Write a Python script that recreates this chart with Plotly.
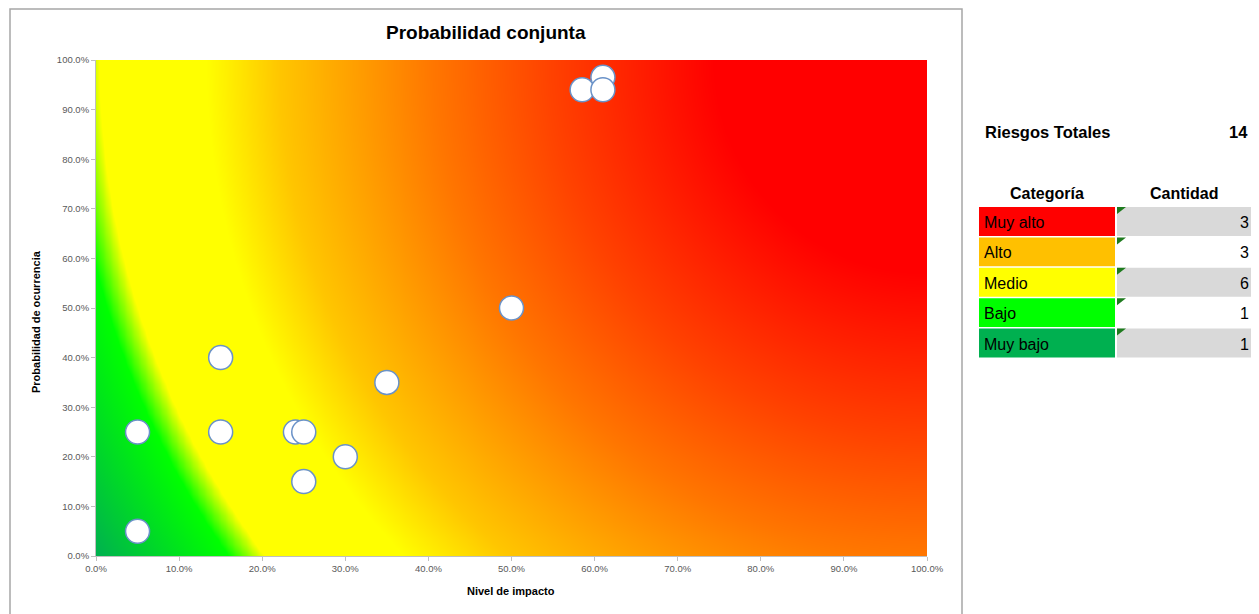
import numpy as np
import plotly.graph_objects as go

# ---------------- data ----------------
impact = [0.05, 0.05, 0.15, 0.15, 0.24, 0.25, 0.25, 0.30, 0.35, 0.50, 0.61, 0.585, 0.61]
probability = [0.05, 0.25, 0.40, 0.25, 0.25, 0.25, 0.15, 0.20, 0.35, 0.50, 0.965, 0.94, 0.94]

categories = ["Muy alto", "Alto", "Medio", "Bajo", "Muy bajo"]
counts = [3, 3, 6, 1, 1]
cat_colors = ["#FF0000", "#FFC000", "#FFFF00", "#00FF00", "#00B050"]
total_label = "Riesgos Totales"
total_value = sum(counts)

tick_vals = [i / 10 for i in range(11)]
tick_text = [f"{v*100:.1f}%" for v in tick_vals]

# ---------------- layout geometry ----------------
# page body has an 8px default margin; figure is sized/offset to compensate
OFF = 8
FIG_W, FIG_H = 1259 - OFF, 614 - OFF
L, R, T, B = 96, 927, 60, 556
PW, PH = R - L, B - T


def px(x):
    return (x - L) / PW


def py(y):
    return (B - y) / PH


# ---------------- background gradient (radial from top-right corner) ----------------
gx = np.linspace(0, 1, 240)
gy = np.linspace(0, 1, 160)
X, Y = np.meshgrid(gx, gy)
D = np.sqrt(((1 - X) * PW) ** 2 + ((1 - Y) * PH) ** 2)
Z = D / np.sqrt(PW ** 2 + PH ** 2)

colorscale = [
    [0.00, "#FF0000"],
    [0.22, "#FF0000"],
    [0.39, "#FF4200"],
    [0.51, "#FF7600"],
    [0.59, "#FF9E00"],
    [0.67, "#FFC600"],
    [0.745, "#FFFF00"],
    [0.855, "#FFFF00"],
    [0.885, "#00FF00"],
    [1.00, "#00B050"],
]

fig = go.Figure()
fig.add_trace(go.Heatmap(
    x=gx, y=gy, z=Z, colorscale=colorscale, zmin=0, zmax=1,
    zsmooth="best", showscale=False, hoverinfo="skip",
))
fig.add_trace(go.Scatter(
    x=impact, y=probability, mode="markers",
    marker=dict(size=24, color="white", line=dict(color="#6A92C8", width=1.5)),
    hovertemplate="Impacto %{x:.1%}<br>Probabilidad %{y:.1%}<extra></extra>",
))

axis_common = dict(
    range=[0, 1], tickvals=tick_vals, ticktext=tick_text,
    showgrid=False, zeroline=False, showline=True, linecolor="#BFBFBF", linewidth=1,
    ticks="outside", ticklen=4, tickcolor="#BFBFBF",
    tickfont=dict(family="Liberation Sans", size=9.5, color="#595959"),
)
fig.update_xaxes(**axis_common)
fig.update_yaxes(**axis_common)

shapes = []
annotations = []

# chart frame
shapes.append(dict(type="rect", xref="paper", yref="paper",
                   x0=px(10), x1=px(962), y0=py(630), y1=py(9),
                   line=dict(color="#A6A6A6", width=1.5), layer="below"))

# title and axis titles
annotations.append(dict(text="<b>Probabilidad conjunta</b>", xref="paper", yref="paper",
                        x=px(486), y=py(32), showarrow=False, xanchor="center", yanchor="middle",
                        font=dict(family="Liberation Sans", size=19, color="#000000")))
annotations.append(dict(text="<b>Nivel de impacto</b>", xref="paper", yref="paper",
                        x=px(511), y=py(591), showarrow=False, xanchor="center", yanchor="middle",
                        font=dict(family="Liberation Sans", size=11, color="#000000")))
annotations.append(dict(text="<b>Probabilidad de ocurrencia</b>", xref="paper", yref="paper",
                        x=px(36), y=py(322), showarrow=False, textangle=-90,
                        xanchor="center", yanchor="middle",
                        font=dict(family="Liberation Sans", size=11, color="#000000")))

# side table
tfont = "Liberation Sans"
annotations.append(dict(text=f"<b>{total_label}</b>", xref="paper", yref="paper",
                        x=px(983), y=py(132), showarrow=False, xanchor="left", yanchor="middle",
                        font=dict(family=tfont, size=16.5, color="#000000")))
annotations.append(dict(text=f"<b>{total_value}</b>", xref="paper", yref="paper",
                        x=px(1250), y=py(132), showarrow=False, xanchor="right", yanchor="middle",
                        font=dict(family=tfont, size=16.5, color="#000000")))
annotations.append(dict(text="<b>Categoría</b>", xref="paper", yref="paper",
                        x=px(1047), y=py(193), showarrow=False, xanchor="center", yanchor="middle",
                        font=dict(family=tfont, size=16, color="#000000")))
annotations.append(dict(text="<b>Cantidad</b>", xref="paper", yref="paper",
                        x=px(1184), y=py(193), showarrow=False, xanchor="center", yanchor="middle",
                        font=dict(family=tfont, size=16, color="#000000")))

row_top = 207
row_h = 30.4
for i, (cat, cnt, col) in enumerate(zip(categories, counts, cat_colors)):
    y0 = row_top + i * row_h
    y1 = y0 + row_h - 1.5
    shapes.append(dict(type="rect", xref="paper", yref="paper",
                       x0=px(979), x1=px(1115), y0=py(y1), y1=py(y0),
                       fillcolor=col, line=dict(width=0), layer="above"))
    shapes.append(dict(type="rect", xref="paper", yref="paper",
                       x0=px(1117), x1=px(1253), y0=py(y1), y1=py(y0),
                       fillcolor="#D9D9D9" if i % 2 == 0 else "#FFFFFF",
                       line=dict(width=0), layer="above"))
    # small green indicator triangle
    tx0, ty0 = px(1117), py(y0)
    shapes.append(dict(type="path", xref="paper", yref="paper",
                       path=f"M {tx0},{ty0} L {px(1126)},{ty0} L {tx0},{py(y0 + 7)} Z",
                       fillcolor="#1E7B1E", line=dict(width=0), layer="above"))
    ym = (y0 + y1) / 2 + 1
    annotations.append(dict(text=cat, xref="paper", yref="paper",
                            x=px(982), y=py(ym), showarrow=False, xanchor="left", yanchor="middle",
                            font=dict(family=tfont, size=16, color="#000000")))
    annotations.append(dict(text=str(cnt), xref="paper", yref="paper",
                            x=px(1251), y=py(ym), showarrow=False, xanchor="right", yanchor="middle",
                            font=dict(family=tfont, size=16, color="#000000")))

fig.update_layout(
    width=FIG_W, height=FIG_H,
    margin=dict(l=L - OFF, r=(FIG_W + OFF) - R, t=T - OFF, b=(FIG_H + OFF) - B),
    paper_bgcolor="white", plot_bgcolor="white",
    showlegend=False, shapes=shapes, annotations=annotations,
)

fig.write_html("out.html")
